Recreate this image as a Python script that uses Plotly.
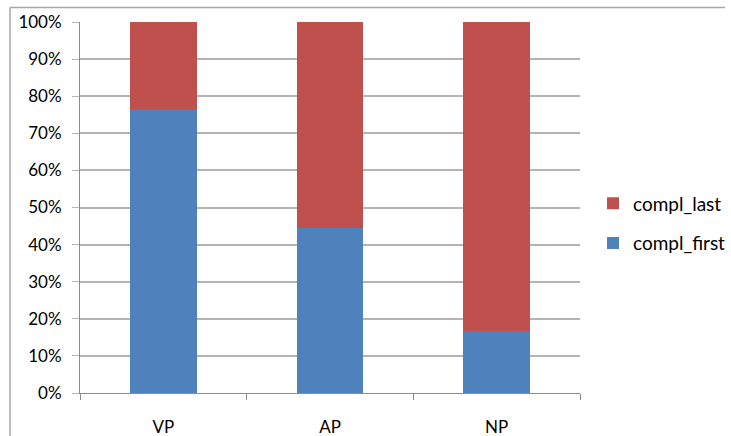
import plotly.graph_objects as go

# Share of completions per group (percent of each column)
categories = ["VP", "AP", "NP"]
compl_first = [76.2, 44.6, 16.6]
compl_last = [23.8, 55.4, 83.4]
y_ticks = [0, 10, 20, 30, 40, 50, 60, 70, 80, 90, 100]
y_tick_labels = [f"{v}%" for v in y_ticks]

BLUE = "#4F81BD"
RED = "#C0504D"
GRID = "#b4b4b4"
AXIS = "#8c8c8c"
FONT = dict(family="Lato, Calibri, sans-serif", size=17, color="#000000")

fig = go.Figure()
fig.add_trace(go.Bar(name="compl_first", x=categories, y=compl_first,
                     legendgroup="first", legendrank=2,
                     marker=dict(color=BLUE, line=dict(width=0))))
fig.add_trace(go.Bar(name="compl_last", x=categories, y=compl_last,
                     legendgroup="last", legendrank=1,
                     marker=dict(color=RED, line=dict(width=0))))

L, R, T, B = 80, 151, 21.5, 43.3
W, H = 731, 436
pw, ph = W - L - R, H - T - B

fig.update_layout(
    width=W, height=H,
    barmode="stack", bargap=0.6,
    margin=dict(l=L, r=R, t=T, b=B, pad=0, autoexpand=False),
    paper_bgcolor="white", plot_bgcolor="white",
    font=FONT,
    showlegend=True,
    legend=dict(traceorder="grouped", x=(593 - L) / pw, xanchor="left",
                y=0.457, yanchor="middle", font=dict(FONT, size=19),
                tracegroupgap=12, itemwidth=30, bgcolor="rgba(0,0,0,0)"),
    xaxis=dict(type="category", showgrid=False, showline=True, automargin=False,
               linecolor=AXIS, linewidth=1, ticks="outside",
               tickson="boundaries", ticklen=6, tickcolor=AXIS,
               ticklabelstandoff=19, tickfont=FONT),
    yaxis=dict(range=[0, 100], tickvals=y_ticks, ticktext=y_tick_labels,
               automargin=False,
               showgrid=True, gridcolor=GRID, gridwidth=1.5,
               showline=True, linecolor=AXIS, linewidth=1,
               ticks="outside", ticklen=7, tickcolor=GRID,
               ticklabelstandoff=7, tickfont=FONT, zeroline=False),
)

# Chart-area frame
x_left = (10 - L) / pw
x_right = (725 - L) / pw
y_top = 1 + (T - 7) / ph
y_bot = -(B + 10) / ph
fig.add_shape(type="line", xref="paper", yref="paper",
              x0=x_left, x1=x_right, y0=y_top, y1=y_top,
              line=dict(color="#a6a6a6", width=1.5))
fig.add_shape(type="line", xref="paper", yref="paper",
              x0=x_left, x1=x_left, y0=y_top, y1=y_bot,
              line=dict(color="#a6a6a6", width=1.5))

fig.write_html("out.html")
